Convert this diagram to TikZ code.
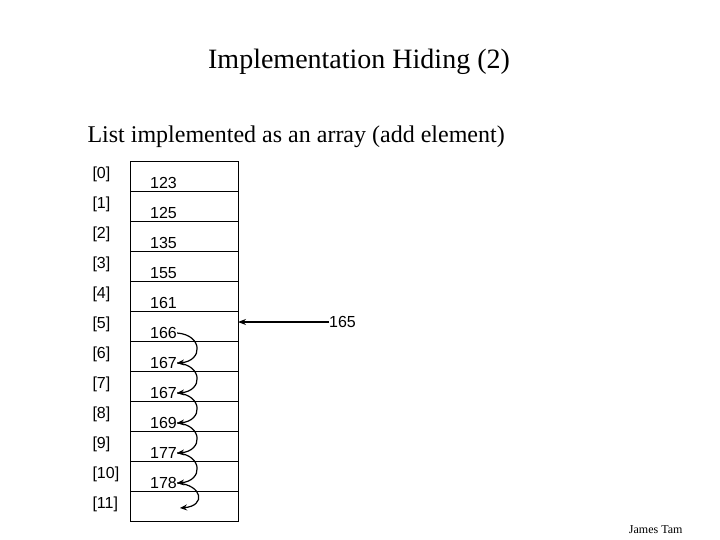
\documentclass[tikz,border=0pt]{standalone}
\usepackage{fontspec}
\setmainfont{Liberation Serif}
\newfontfamily\arial{Liberation Sans}
\usetikzlibrary{arrows.meta}
\begin{document}
\begin{tikzpicture}[x=1pt,y=-1pt,
  cellbox/.style={draw,line width=0.8pt,minimum width=108pt,minimum height=30pt,inner sep=0,outer sep=0},
  idx/.style={font=\arial\fontsize{16}{16}\selectfont,anchor=west},
  val/.style={font=\arial\fontsize{16}{16}\selectfont,anchor=west},
  shiftarrow/.style={-{Stealth[length=7pt,width=6pt]},line width=1.2pt,black}]
\useasboundingbox (0,0) rectangle (720,540);
\node[font=\fontsize{28}{28}\selectfont] (title) at (359,62) {Implementation Hiding (2)};
\node[font=\fontsize{24}{24}\selectfont,anchor=west] (sub) at (84,137) {List implemented as an array (add element)};
\foreach \i/\v in {0/123,1/125,2/135,3/155,4/161,5/166,6/167,7/167,8/169,9/177,10/178,11/{}} {
  \node[cellbox] (c\i) at (184,{176+30*\i}) {};
  \node[idx] (i\i) at (89,{176+30*\i-2}) {[\i]};
  \node[val,inner sep=0] (v\i) at (150,{176+30*\i+7}) {\v};
}
\coordinate (e11) at (180,508);
\node[font=\arial\fontsize{16}{16}\selectfont,anchor=west,inner sep=0] (n) at (329,322) {165};
\draw[-{Stealth[length=8pt,width=6pt]},line width=1.2pt] (n.west) -- (c5.east |- n.west);
\foreach \a/\b in {5/6,6/7,7/8,8/9,9/10} {
  \draw[shiftarrow] (v\a.east) .. controls +(26,2) and +(26,-2) .. (v\b.east);
}
\draw[shiftarrow] (v10.east) .. controls +(26,2) and +(26,-2) .. (e11);
\node[font=\fontsize{12}{12}\selectfont,anchor=east] (jt) at (686,530) {James Tam};
\end{tikzpicture}
\end{document}
